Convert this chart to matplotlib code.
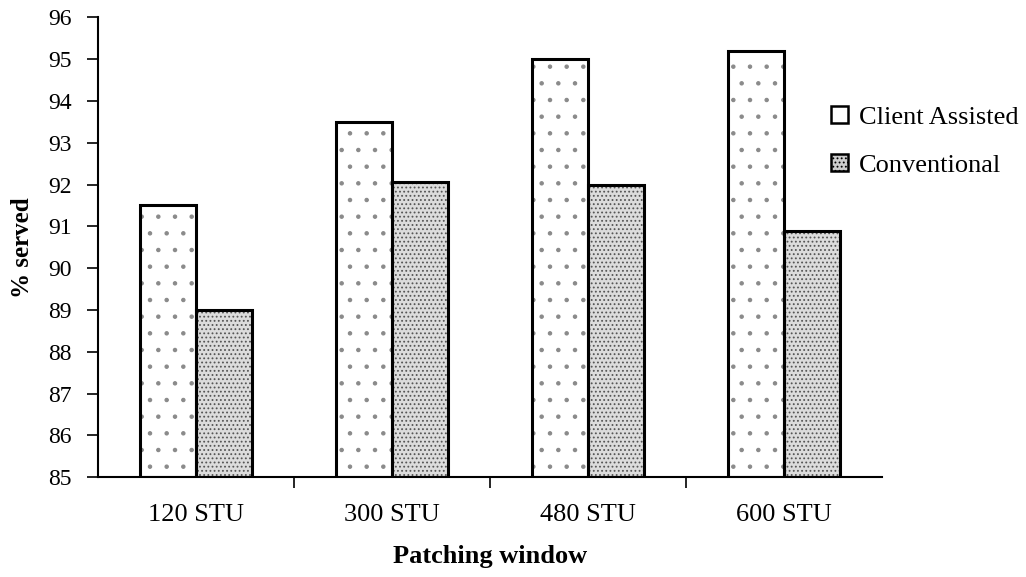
import numpy as np
import matplotlib.pyplot as plt
from matplotlib.patches import Patch

categories = ["120 STU", "300 STU", "480 STU", "600 STU"]
client_assisted = [91.5, 93.5, 95.0, 95.2]
conventional = [89.0, 92.05, 92.0, 90.9]
yticks = list(range(85, 97))

plt.rcParams['font.family'] = ['Liberation Serif', 'DejaVu Serif']
plt.rcParams['hatch.linewidth'] = 0.8

fig = plt.figure(figsize=(10.26, 5.77), dpi=100)
ax = fig.add_axes([0.0955, 0.173, 0.764, 0.797])

x = np.arange(len(categories))
w = 0.285
ca = np.array(client_assisted) - 85
cv = np.array(conventional) - 85

# hatch layers (gray dots), then black outlines on top
ax.bar(x - w/2, ca, w, bottom=85, facecolor='white', edgecolor='#8a8a8a',
       linewidth=0, hatch='.')
ax.bar(x + w/2, cv, w, bottom=85, facecolor='#dcdcdc', edgecolor='#555555',
       linewidth=0, hatch='....')
ax.bar(x - w/2, ca, w, bottom=85, facecolor='none', edgecolor='black', linewidth=2.2)
ax.bar(x + w/2, cv, w, bottom=85, facecolor='none', edgecolor='black', linewidth=2.2)

ax.set_xlim(-0.5, 3.5)
ax.set_ylim(85, 96)
ax.set_yticks(yticks)
ax.set_yticklabels([str(v) for v in yticks], fontsize=17)
ax.set_xticks(x)
ax.set_xticklabels(categories, fontsize=19)
ax.set_xticks([0.5, 1.5, 2.5], minor=True)
ax.tick_params(axis='x', which='major', length=0, pad=19)
ax.tick_params(axis='x', which='minor', length=8, width=1.2, direction='out')
ax.tick_params(axis='y', length=8, width=1.2, direction='out', pad=11)

for s in ['top', 'right']:
    ax.spines[s].set_visible(False)
for s in ['left', 'bottom']:
    ax.spines[s].set_linewidth(1.5)

ax.set_ylabel('% served', fontsize=18, fontweight='bold', labelpad=10)
ax.set_xlabel('Patching window', fontsize=19, fontweight='bold', labelpad=14)

h1 = Patch(facecolor='white', edgecolor='black', linewidth=1.8)
h2 = Patch(facecolor='#cfcfcf', edgecolor='black', linewidth=1.8, hatch='....')
fig.legend(handles=[h1, h2], labels=['Client Assisted', 'Conventional'],
           loc='upper left', bbox_to_anchor=(0.787, 0.858),
           frameon=False, fontsize=19, handlelength=0.65, handleheight=0.65,
           handletextpad=0.4, labelspacing=0.95)

fig.savefig('out.png', dpi=100)
